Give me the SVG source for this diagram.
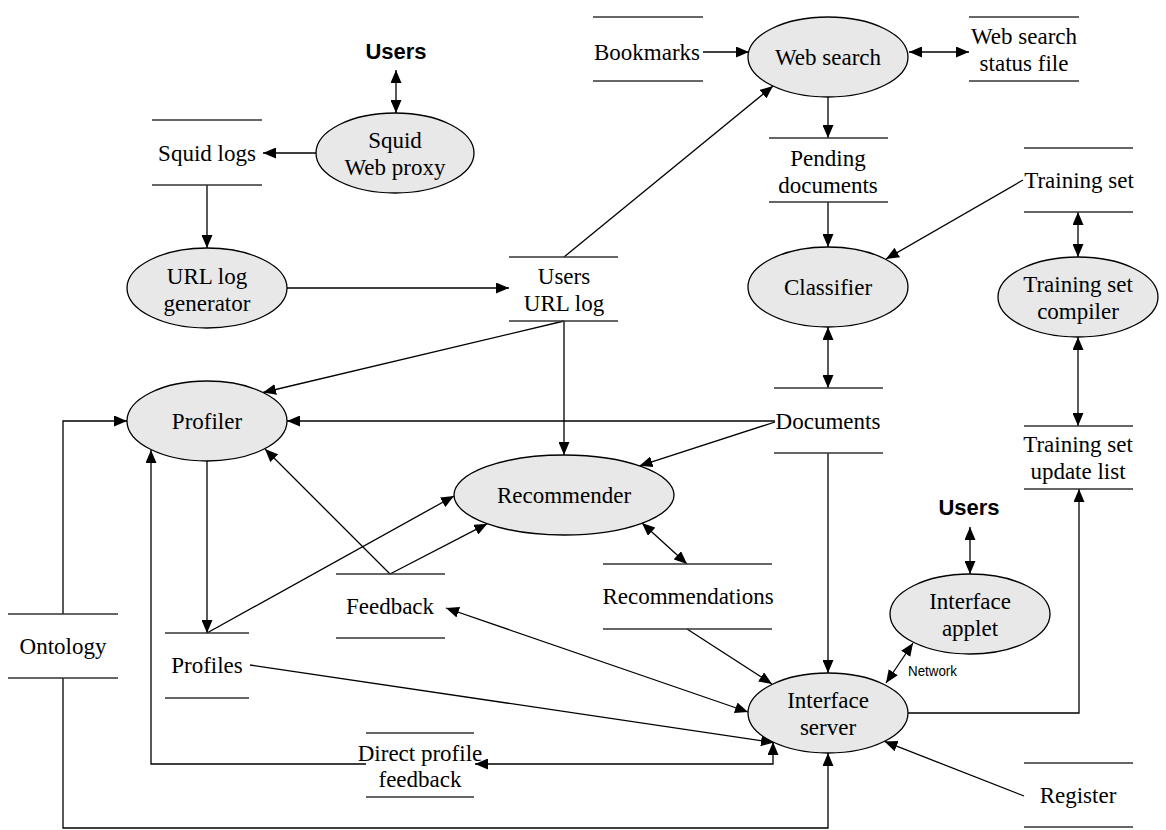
<svg xmlns="http://www.w3.org/2000/svg" width="1166" height="830" viewBox="0 0 1166 830">
  <style>
    .proc ellipse { fill: #e8e8e8; stroke: #000; stroke-width: 1.3; }
    .store line { stroke: #333; stroke-width: 1.5; }
    text { font-family: "Liberation Serif", "Times New Roman", serif; font-size: 23px; fill: #000; text-anchor: middle; }
    .ext { font-family: "Liberation Sans", Arial, sans-serif; font-weight: bold; font-size: 22px; }
    .small { font-family: "Liberation Sans", Arial, sans-serif; font-size: 15px; text-anchor: start; }
    #connectors line, #connectors polyline { fill: none; stroke: #000; stroke-width: 1.3; }
    .one { marker-end: url(#arrow); }
    .two { marker-start: url(#arrow); marker-end: url(#arrow); }
  </style>
  <defs>
    <marker id="arrow" markerUnits="userSpaceOnUse" markerWidth="13" markerHeight="11" refX="13" refY="5.5" orient="auto-start-reverse" viewBox="0 0 13 11">
      <path d="M0,0 L13,5.5 L0,11 z" fill="#000"/>
    </marker>
  </defs>
  <rect width="1166" height="830" fill="#fff"/>

  <!-- connectors -->
  <g id="connectors">
    <line class="two" x1="396" y1="70" x2="396" y2="113"/>
    <line class="one" x1="316" y1="153" x2="263" y2="153"/>
    <line class="one" x1="207" y1="185" x2="207" y2="248"/>
    <line class="one" x1="287" y1="288" x2="509" y2="288"/>
    <line class="one" x1="564" y1="257" x2="773" y2="86"/>
    <line class="one" x1="703" y1="52" x2="749" y2="52"/>
    <line class="two" x1="909" y1="52" x2="969" y2="52"/>
    <line class="one" x1="828" y1="97" x2="828" y2="138"/>
    <line class="one" x1="828" y1="202" x2="828" y2="247"/>
    <line class="one" x1="1023" y1="180" x2="886" y2="259"/>
    <line class="two" x1="1078" y1="212" x2="1078" y2="257"/>
    <line class="two" x1="1078" y1="337" x2="1078" y2="426"/>
    <line class="two" x1="828" y1="327" x2="828" y2="388"/>
    <line class="one" x1="564" y1="321" x2="263" y2="392.5"/>
    <line class="one" x1="564" y1="321" x2="564" y2="455"/>
    <line class="one" x1="775" y1="421" x2="287" y2="421"/>
    <line class="one" x1="775" y1="422" x2="639.5" y2="465.8"/>
    <line class="one" x1="207" y1="461" x2="207" y2="633"/>
    <line class="one" x1="207" y1="633" x2="454" y2="496"/>
    <line class="one" x1="390" y1="574" x2="265" y2="449"/>
    <line class="one" x1="390" y1="574" x2="487.3" y2="523.7"/>
    <line class="two" x1="642" y1="523" x2="687" y2="564"/>
    <line class="one" x1="687" y1="629" x2="772" y2="684"/>
    <line class="one" x1="828" y1="453" x2="828" y2="673"/>
    <line class="two" x1="446" y1="608" x2="748" y2="712"/>
    <line class="one" x1="250" y1="665" x2="774" y2="742.6"/>
    <polyline class="two" points="475,764 773,764 773,742"/>
    <polyline class="one" points="366,764 151,764 151,450"/>
    <polyline class="one" points="63,614 63,421 127,421"/>
    <polyline class="one" points="63,678 63,828 828,828 828,753"/>
    <polyline class="one" points="908,713 1079,713 1079,489"/>
    <line class="two" x1="970" y1="527" x2="970" y2="574"/>
    <line class="two" x1="886" y1="683" x2="913" y2="643"/>
    <line class="one" x1="1024" y1="796" x2="884.5" y2="741.4"/>
  </g>

  <!-- external entities -->
  <g id="users-top"><text class="ext" x="396" y="59">Users</text></g>
  <g id="users-right"><text class="ext" x="969" y="515">Users</text></g>

  <!-- processes -->
  <g id="squid-proxy" class="proc">
    <ellipse cx="395" cy="153" rx="79" ry="40"/>
    <text x="395" y="148">Squid</text>
    <text x="395" y="175">Web proxy</text>
  </g>
  <g id="url-log-generator" class="proc">
    <ellipse cx="207" cy="288" rx="80" ry="40"/>
    <text x="207" y="284">URL log</text>
    <text x="207" y="311">generator</text>
  </g>
  <g id="web-search" class="proc">
    <ellipse cx="828" cy="57" rx="80" ry="40"/>
    <text x="828" y="65">Web search</text>
  </g>
  <g id="classifier" class="proc">
    <ellipse cx="828" cy="287" rx="80" ry="40"/>
    <text x="828" y="295">Classifier</text>
  </g>
  <g id="training-set-compiler" class="proc">
    <ellipse cx="1078" cy="297" rx="80" ry="40"/>
    <text x="1078" y="292">Training set</text>
    <text x="1078" y="319">compiler</text>
  </g>
  <g id="profiler" class="proc">
    <ellipse cx="207" cy="421" rx="80" ry="40"/>
    <text x="207" y="429">Profiler</text>
  </g>
  <g id="recommender" class="proc">
    <ellipse cx="564" cy="495" rx="110" ry="40"/>
    <text x="564" y="503">Recommender</text>
  </g>
  <g id="interface-server" class="proc">
    <ellipse cx="828" cy="713" rx="80" ry="40"/>
    <text x="828" y="708">Interface</text>
    <text x="828" y="735">server</text>
  </g>
  <g id="interface-applet" class="proc">
    <ellipse cx="970" cy="614" rx="80" ry="40"/>
    <text x="970" y="609">Interface</text>
    <text x="970" y="636">applet</text>
  </g>
  <g id="network-label"><text class="small" x="908" y="676" textLength="49" lengthAdjust="spacingAndGlyphs">Network</text></g>

  <!-- data stores -->
  <g id="squid-logs" class="store">
    <line x1="152" y1="120" x2="262" y2="120"/><line x1="152" y1="185" x2="262" y2="185"/>
    <text x="207" y="161">Squid logs</text>
  </g>
  <g id="bookmarks" class="store">
    <line x1="593" y1="17" x2="703" y2="17"/><line x1="593" y1="81" x2="703" y2="81"/>
    <text x="647" y="60">Bookmarks</text>
  </g>
  <g id="web-search-status" class="store">
    <line x1="969" y1="17" x2="1079" y2="17"/><line x1="969" y1="81" x2="1079" y2="81"/>
    <text x="1024" y="44">Web search</text>
    <text x="1024" y="71">status file</text>
  </g>
  <g id="pending-documents" class="store">
    <line x1="769" y1="138" x2="888" y2="138"/><line x1="769" y1="202" x2="888" y2="202"/>
    <text x="828" y="166">Pending</text>
    <text x="828" y="193">documents</text>
  </g>
  <g id="training-set" class="store">
    <line x1="1024" y1="148" x2="1133" y2="148"/><line x1="1024" y1="212" x2="1133" y2="212"/>
    <text x="1079" y="188">Training set</text>
  </g>
  <g id="users-url-log" class="store">
    <line x1="509" y1="257" x2="618" y2="257"/><line x1="509" y1="321" x2="618" y2="321"/>
    <text x="564" y="284">Users</text>
    <text x="564" y="311">URL log</text>
  </g>
  <g id="documents" class="store">
    <line x1="774" y1="388" x2="883" y2="388"/><line x1="774" y1="453" x2="883" y2="453"/>
    <text x="828" y="429">Documents</text>
  </g>
  <g id="training-set-update-list" class="store">
    <line x1="1024" y1="426" x2="1133" y2="426"/><line x1="1024" y1="489" x2="1133" y2="489"/>
    <text x="1078" y="452">Training set</text>
    <text x="1078" y="479">update list</text>
  </g>
  <g id="ontology" class="store">
    <line x1="8" y1="614" x2="118" y2="614"/><line x1="8" y1="678" x2="118" y2="678"/>
    <text x="63" y="654">Ontology</text>
  </g>
  <g id="profiles" class="store">
    <line x1="165" y1="633" x2="249" y2="633"/><line x1="165" y1="698" x2="249" y2="698"/>
    <text x="207" y="673">Profiles</text>
  </g>
  <g id="feedback" class="store">
    <line x1="336" y1="574" x2="445" y2="574"/><line x1="336" y1="638" x2="445" y2="638"/>
    <text x="390" y="614">Feedback</text>
  </g>
  <g id="recommendations" class="store">
    <line x1="603" y1="564" x2="772" y2="564"/><line x1="603" y1="629" x2="772" y2="629"/>
    <text x="688" y="604">Recommendations</text>
  </g>
  <g id="direct-profile-feedback" class="store">
    <line x1="366" y1="733" x2="474" y2="733"/><line x1="366" y1="797" x2="474" y2="797"/>
    <text x="420" y="761">Direct profile</text>
    <text x="420" y="787">feedback</text>
  </g>
  <g id="register" class="store">
    <line x1="1024" y1="763" x2="1133" y2="763"/><line x1="1024" y1="827" x2="1133" y2="827"/>
    <text x="1078" y="803">Register</text>
  </g>
</svg>
